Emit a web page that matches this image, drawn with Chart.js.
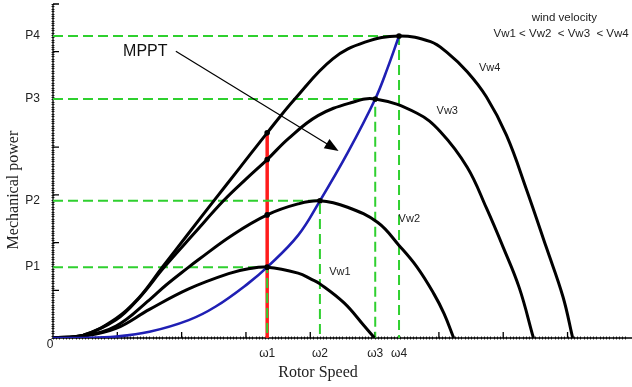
<!DOCTYPE html>
<html>
<head>
<meta charset="utf-8">
<script src="https://cdn.jsdelivr.net/npm/chart.js@4.4.1/dist/chart.umd.min.js"></script>
<style>
  html, body { margin: 0; padding: 0; background: #fff; }
</style>
</head>
<body>
<canvas id="chart" width="632" height="387"></canvas>
<script>
// values, one major axis tick = 1 unit
const omegaLabels = ['ω1', 'ω2', 'ω3', 'ω4'];
const omega = [3.33, 4.15, 5.01, 5.38];
const powerLabels = ['P1', 'P2', 'P3', 'P4'];
const power = [1.485, 2.875, 5.01, 6.33];

// power curves for each wind velocity [rotor speed, power]
const vw1 = [[0,0],[0.47,0.04],[0.98,0.20],[1.50,0.60],[2.11,1.03],[2.73,1.35],[3.04,1.45],[3.33,1.485],
  [3.81,1.36],[4.02,1.23],[4.15,1.135],[4.53,0.73],[4.84,0.25],[5.0,0]];
const vw2 = [[0,0],[0.47,0.05],[0.98,0.25],[1.50,0.80],[1.75,1.10],[2.11,1.485],[2.27,1.65],[2.78,2.15],
  [3.33,2.58],[3.81,2.81],[4.15,2.875],[4.58,2.74],[5.05,2.42],[5.38,1.94],[5.66,1.485],[5.92,0.93],[6.08,0.51],[6.23,0]];
const vw3 = [[0,0],[0.47,0.06],[0.98,0.38],[1.34,0.84],[1.73,1.485],[2.20,2.20],[2.65,2.875],[3.00,3.33],
  [3.33,3.74],[3.66,4.18],[4.12,4.66],[4.63,4.93],[5.01,5.01],[5.66,4.71],[6.02,4.33],[6.44,3.58],[6.74,2.72],
  [7.0,1.9],[7.25,1.05],[7.47,0]];
const vw4 = [[0,0],[0.47,0.06],[0.98,0.41],[1.34,0.85],[1.70,1.485],[2.10,2.18],[2.50,2.875],[2.90,3.56],
  [3.33,4.30],[3.76,5.01],[4.35,5.85],[4.85,6.20],[5.38,6.33],[5.87,6.21],[6.13,5.98],[6.44,5.58],[6.74,5.05],
  [7.05,4.25],[7.36,3.12],[7.67,1.90],[7.93,0.86],[8.08,0]];
// maximum power point tracking curve
const mppt = [[0,0],[0.47,0.0],[0.98,0.03],[1.50,0.13],[2.11,0.375],[2.53,0.66],[3.04,1.15],[3.33,1.485],
  [3.81,2.15],[4.15,2.875],[4.58,3.88],[5.01,5.01],[5.20,5.65],[5.38,6.33]];
// where the ω1 line cuts the curves
const omega1Hits = [1.485, 2.58, 3.74, 4.30];

const xMax = 8.94, yMax = 7;
const sans = "'Liberation Sans', Arial, sans-serif";
const serif = "'Liberation Serif', 'Times New Roman', serif";
const green = '#2fd02f';

const pts = arr => arr.map(p => ({x: p[0], y: p[1]}));

const curve = (data) => ({
  data: pts(data), showLine: true, borderColor: '#000', borderWidth: 3,
  pointRadius: 0, tension: 0.4, order: 2
});

const datasets = [];
// dots on top
datasets.push({
  data: omega1Hits.map(v => ({x: omega[0], y: v}))
    .concat(omega.slice(1).map((w, i) => ({x: w, y: power[i + 1]}))),
  pointRadius: 2.8, pointBackgroundColor: '#000', pointBorderWidth: 0, showLine: false, order: 0
});
datasets.push({
  data: pts(mppt), showLine: true, borderColor: '#1f1fb4', borderWidth: 2.6,
  pointRadius: 0, tension: 0.4, order: 1
});
[vw1, vw2, vw3, vw4].forEach(c => datasets.push(curve(c)));
omega.forEach((w, i) => datasets.push({
  data: [{x: 0, y: power[i]}, {x: w, y: power[i]}, {x: w, y: 0}],
  showLine: true, borderColor: green, borderWidth: 2, borderDash: [10, 5],
  pointRadius: 0, tension: 0, order: 3
}));
datasets.push({
  data: [{x: omega[0], y: 0}, {x: omega[0], y: Math.max(...omega1Hits)}],
  showLine: true, borderColor: '#ff1c1c', borderWidth: 3.5, pointRadius: 0, order: 4
});

// axis lines with ruler-like ticks
const rulerPlugin = {
  id: 'ruler',
  beforeDatasetsDraw(chart) {
    const {ctx, scales: {x, y}} = chart;
    const x0 = x.getPixelForValue(0), y0 = y.getPixelForValue(0);
    ctx.save();
    ctx.strokeStyle = '#333';
    ctx.lineWidth = 1;
    ctx.beginPath();
    for (let v = 0; v <= yMax + 1e-6; v += 0.05) {
      const p = Math.round(y.getPixelForValue(v)) + 0.5;
      ctx.moveTo(x0 - 1.5, p); ctx.lineTo(x0 + 1.5, p);
    }
    for (let v = 0; v <= xMax; v += 0.05) {
      const p = Math.round(x.getPixelForValue(v)) + 0.5;
      ctx.moveTo(p, y0 - 1.5); ctx.lineTo(p, y0 + 1.5);
    }
    ctx.stroke();
    ctx.strokeStyle = '#000';
    ctx.lineWidth = 1.3;
    ctx.beginPath();
    ctx.moveTo(x0, y.getPixelForValue(yMax));
    ctx.lineTo(x0, y0);
    ctx.lineTo(chart.width, y0);
    for (let v = 1; v <= yMax; v++) {
      const p = y.getPixelForValue(v);
      ctx.moveTo(x0, p); ctx.lineTo(x0 + 6, p);
    }
    for (let v = 1; v <= xMax; v++) {
      const p = x.getPixelForValue(v);
      ctx.moveTo(p, y0); ctx.lineTo(p, y0 - 6);
    }
    ctx.stroke();
    ctx.restore();
  }
};

// titles, labels and the MPPT arrow
const notesPlugin = {
  id: 'notes',
  afterDatasetsDraw(chart) {
    const {ctx, scales: {x, y}} = chart;
    const X = v => x.getPixelForValue(v), Y = v => y.getPixelForValue(v);
    ctx.save();
    ctx.textAlign = 'center';
    ctx.textBaseline = 'middle';
    ctx.fillStyle = '#222';

    ctx.font = '16px ' + serif;
    ctx.fillText('Rotor Speed', X(4.12), Y(0) + 35);
    ctx.save();
    ctx.translate(X(0) - 39, Y(3.1));
    ctx.rotate(-Math.PI / 2);
    ctx.fillText('Mechanical power', 0, 0);
    ctx.restore();

    ctx.font = '12px ' + sans;
    ctx.fillText('0', X(0) - 3, Y(0) + 7);

    ctx.font = '11px ' + sans;
    ctx.fillText('Vw1', X(4.46), Y(1.375));
    ctx.fillText('Vw2', X(5.54), Y(2.5));
    ctx.fillText('Vw3', X(6.13), Y(4.75));
    ctx.fillText('Vw4', X(6.79), Y(5.65));
    ctx.font = '11.5px ' + sans;
    ctx.fillText('wind velocity', X(7.95), Y(6.71));
    ctx.fillText('Vw1 < Vw2  < Vw3  < Vw4', X(7.9), Y(6.375));

    ctx.font = '16px ' + sans;
    ctx.fillStyle = '#111';
    ctx.fillText('MPPT', X(1.435), Y(6.0));

    // arrow
    const ax = X(1.91), ay = Y(6.01), bx = X(4.44), by = Y(3.92);
    const ang = Math.atan2(by - ay, bx - ax);
    ctx.strokeStyle = '#000';
    ctx.lineWidth = 1.2;
    ctx.beginPath();
    ctx.moveTo(ax, ay);
    ctx.lineTo(bx - 10 * Math.cos(ang), by - 10 * Math.sin(ang));
    ctx.stroke();
    ctx.fillStyle = '#000';
    ctx.beginPath();
    ctx.moveTo(bx, by);
    ctx.lineTo(bx - 14 * Math.cos(ang) + 5.5 * Math.sin(ang), by - 14 * Math.sin(ang) - 5.5 * Math.cos(ang));
    ctx.lineTo(bx - 14 * Math.cos(ang) - 5.5 * Math.sin(ang), by - 14 * Math.sin(ang) + 5.5 * Math.cos(ang));
    ctx.closePath();
    ctx.fill();
    ctx.restore();
  }
};

new Chart(document.getElementById('chart').getContext('2d'), {
  type: 'scatter',
  data: { datasets },
  options: {
    responsive: false,
    animation: false,
    events: [],
    layout: { padding: { top: 4, right: 0, bottom: 0, left: 0 } },
    plugins: { legend: { display: false }, tooltip: { enabled: false } },
    scales: {
      x: {
        type: 'linear', min: 0, max: xMax,
        grid: { display: false, drawTicks: false },
        border: { display: false },
        afterBuildTicks: s => { s.ticks = omega.map(v => ({ value: v })); },
        afterFit: s => { s.height = 49; s.paddingLeft = 0; s.paddingRight = 0; },
        ticks: {
          autoSkip: false, maxRotation: 0, padding: 8, color: '#222',
          font: { family: sans, size: 12 },
          callback: (v, i) => omegaLabels[i]
        }
      },
      y: {
        type: 'linear', min: 0, max: yMax,
        grid: { display: false, drawTicks: false },
        border: { display: false },
        afterBuildTicks: s => { s.ticks = power.map(v => ({ value: v })); },
        afterFit: s => { s.width = 53; s.paddingTop = 0; s.paddingBottom = 0; },
        ticks: {
          autoSkip: false, padding: 13, color: '#222',
          font: { family: sans, size: 12 },
          callback: (v, i) => powerLabels[i]
        }
      }
    }
  },
  plugins: [rulerPlugin, notesPlugin]
});
</script>
</body>
</html>
